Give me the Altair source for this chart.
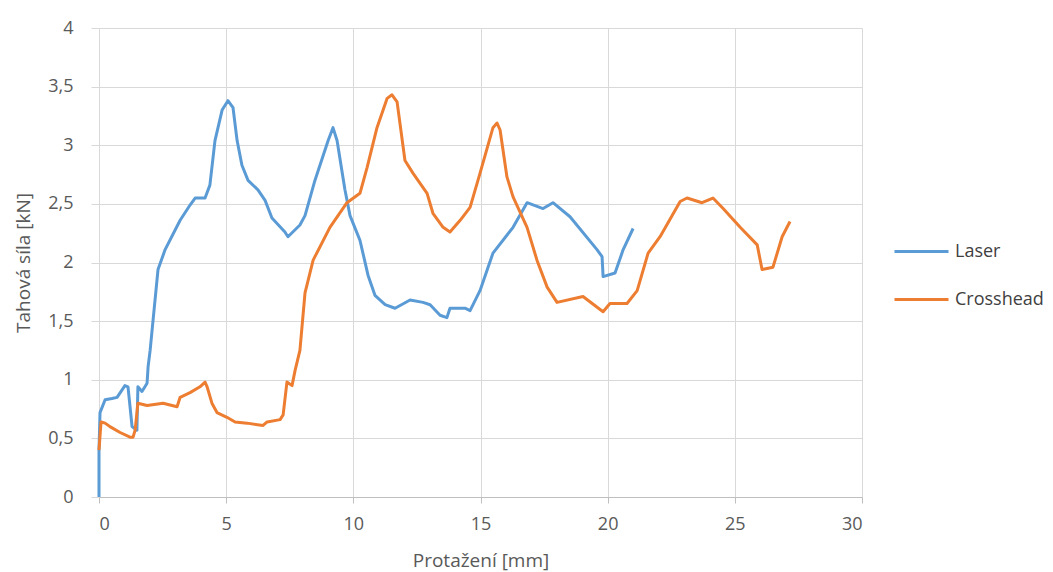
import altair as alt
import pandas as pd

# Tensile test: force vs. elongation measured two ways
laser_x = [0.0, 0.0, 0.04, 0.24, 0.51, 0.71, 1.02, 1.14, 1.22, 1.30, 1.49, 1.53, 1.69, 1.89, 1.93,
           2.01, 2.32, 2.60, 3.19, 3.58, 3.78, 4.17, 4.36, 4.56, 4.84, 5.07, 5.27, 5.43, 5.62,
           5.86, 6.25, 6.53, 6.80, 7.31, 7.43, 7.90, 8.10, 8.49, 9.01, 9.20, 9.36, 9.67, 9.87,
           10.26, 10.58, 10.85, 11.25, 11.64, 12.23, 12.74, 13.02, 13.41, 13.68, 13.80, 14.39,
           14.59, 14.98, 15.49, 16.28, 16.83, 17.46, 17.85, 18.52, 19.58, 19.78, 19.82, 20.29,
           20.61, 21.00]
laser_y = [0.0, 0.40, 0.72, 0.83, 0.84, 0.85, 0.95, 0.94, 0.77, 0.60, 0.57, 0.94, 0.90, 0.97, 1.11,
           1.25, 1.94, 2.11, 2.36, 2.49, 2.55, 2.55, 2.66, 3.04, 3.30, 3.38, 3.32, 3.04, 2.83,
           2.70, 2.62, 2.53, 2.38, 2.26, 2.22, 2.32, 2.40, 2.70, 3.04, 3.15, 3.04, 2.62, 2.40,
           2.19, 1.89, 1.72, 1.64, 1.61, 1.68, 1.66, 1.64, 1.55, 1.53, 1.61, 1.61,
           1.59, 1.76, 2.08, 2.30, 2.51, 2.46, 2.51, 2.39, 2.11, 2.05, 1.88, 1.91,
           2.11, 2.29]

crosshead_x = [0.0, 0.08, 0.24, 0.43, 0.83, 1.22, 1.34, 1.42, 1.53, 1.89, 2.52, 3.07, 3.19, 3.58,
               3.97, 4.17, 4.25, 4.44, 4.64, 5.03, 5.35, 5.82, 6.45, 6.61, 7.12, 7.24, 7.39,
               7.59, 7.71, 7.90, 8.10, 8.42, 9.08, 9.75, 10.26, 10.54, 10.93, 11.33, 11.52,
               11.72, 12.03, 12.35, 12.90, 13.13, 13.53, 13.80, 14.20, 14.59, 14.98, 15.49,
               15.65, 15.77, 16.04, 16.28, 16.83, 17.22, 17.62, 18.01, 19.03, 19.82, 20.09,
               20.76, 21.16, 21.59, 22.06, 22.85, 23.12, 23.71, 24.14, 24.54, 25.21, 25.88,
               26.07, 26.50, 26.86, 27.17]
crosshead_y = [0.40, 0.64, 0.63, 0.60, 0.55, 0.51, 0.51, 0.57, 0.80, 0.78, 0.80, 0.77, 0.85, 0.89,
               0.94, 0.98, 0.94, 0.80, 0.72, 0.68, 0.64, 0.63, 0.61, 0.64, 0.66, 0.70, 0.98,
               0.95, 1.08, 1.25, 1.74, 2.02, 2.30, 2.51, 2.59, 2.81, 3.15, 3.40, 3.43,
               3.37, 2.87, 2.76, 2.59, 2.42, 2.30, 2.26, 2.36, 2.47, 2.76, 3.15,
               3.19, 3.13, 2.73, 2.56, 2.30, 2.02, 1.79, 1.66, 1.71, 1.58, 1.65,
               1.65, 1.76, 2.08, 2.22, 2.52, 2.55, 2.51, 2.55, 2.46, 2.30, 2.15,
               1.94, 1.96, 2.22, 2.35]

x_ticks = [0, 5, 10, 15, 20, 25, 30]
y_ticks = [0, 0.5, 1, 1.5, 2, 2.5, 3, 3.5, 4]

series_names = ["Laser", "Crosshead"]
series_colors = ["#5B9BD5", "#ED7D31"]

rows = []
for name, xs, ys in [("Laser", laser_x, laser_y), ("Crosshead", crosshead_x, crosshead_y)]:
    for i, (x, y) in enumerate(zip(xs, ys)):
        rows.append({"series": name, "i": i, "x": x, "y": y})
df = pd.DataFrame(rows)

FONT = "Open Sans"
# decimal comma, no trailing zeros
comma = "replace(format(datum.value, '~g'), '.', ',')"

chart = alt.Chart(df).mark_line(strokeWidth=3, strokeJoin="round").encode(
    x=alt.X("x:Q", title="Protažení [mm]",
            scale=alt.Scale(domain=[0, 30], nice=False),
            axis=alt.Axis(values=x_ticks, labelExpr=comma,
                          tickSize=6, tickColor="#BFBFBF", domainColor="#BFBFBF",
                          labelPadding=12, titlePadding=18)),
    y=alt.Y("y:Q", title="Tahová síla [kN]",
            scale=alt.Scale(domain=[0, 4], nice=False),
            axis=alt.Axis(values=y_ticks, labelExpr=comma,
                          tickSize=8, tickColor="#D9D9D9", domain=False,
                          labelPadding=18, titlePadding=14)),
    color=alt.Color("series:N", title=None,
                    scale=alt.Scale(domain=series_names, range=series_colors),
                    sort=series_names,
                    legend=alt.Legend(orient="none", legendX=794, legendY=195,
                                      symbolType="stroke", symbolSize=2916,
                                      symbolStrokeWidth=3, rowPadding=10,
                                      labelOffset=5, labelFontSize=18,
                                      labelFont=FONT, labelColor="#404040")),
    order="i:Q",
).properties(
    width=763, height=469,
    autosize="none",
    padding={"left": 99, "top": 28, "right": 191, "bottom": 75},
).configure_view(
    stroke=None
).configure_axis(
    gridColor="#D9D9D9", gridWidth=1,
    labelFont=FONT, labelFontSize=18, labelColor="#595959",
    titleFont=FONT, titleFontSize=19, titleColor="#595959", titleFontWeight="normal",
)

chart.save("out.html", embed_options={"renderer": "svg", "actions": False})
